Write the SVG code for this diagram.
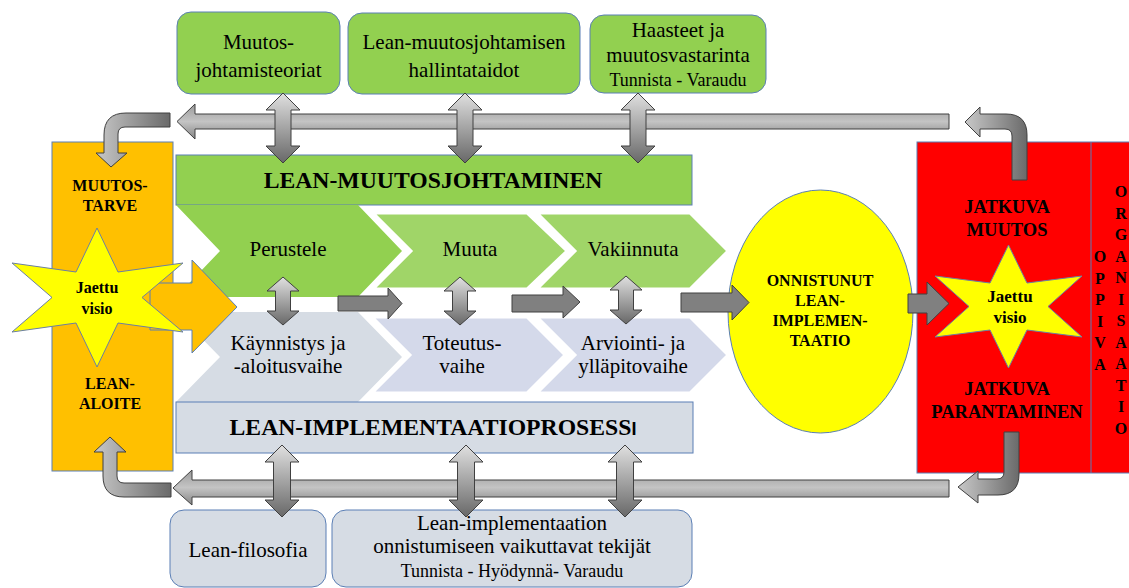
<svg xmlns="http://www.w3.org/2000/svg" width="1129" height="588" viewBox="0 0 1129 588">
  <style>
    .serif { font-family: "Liberation Serif", "Times New Roman", serif; fill: #000; }
    .reg { font-size: 21px; }
    .small { font-size: 18px; }
    .b16 { font-size: 16px; font-weight: bold; }
    .b17 { font-size: 17px; font-weight: bold; }
    .b18 { font-size: 18.5px; font-weight: bold; }
    .hdr { font-size: 23.7px; font-weight: bold; }
    .box-green { fill: #92d050; stroke: #5b7fb5; stroke-width: 1; }
    .box-grey { fill: #d6dce4; stroke: #5b7fb5; stroke-width: 1; }
    .chev-dark { fill: #92d050; }
    .chev-light { fill: #a0d568; stroke: #ffffff; stroke-width: 3; }
    .chev-grey1 { fill: #d6dce4; }
    .chev-grey2 { fill: #d4d9ea; stroke: #ffffff; stroke-width: 3; }
    .arrow-long { fill: url(#gLong); stroke: #404040; stroke-width: 1; }
    .arrow-bend { fill: url(#gBend); stroke: #404040; stroke-width: 1; }
    .arrow-dbl { fill: url(#gDbl); stroke: #404040; stroke-width: 1; }
    .arrow-flat { fill: #808080; stroke: #404040; stroke-width: 1; }
    .star { fill: #ffff00; stroke: #6b7fa3; stroke-width: 1; }
    .mid { text-anchor: middle; }
  </style>
  <defs>
    <linearGradient id="gLong" x1="0" y1="0" x2="0" y2="1">
      <stop offset="0" stop-color="#9a9a9a"/>
      <stop offset="0.5" stop-color="#c4c4c4"/>
      <stop offset="1" stop-color="#858585"/>
    </linearGradient>
    <linearGradient id="gBend" x1="0" y1="0" x2="1" y2="0">
      <stop offset="0" stop-color="#c8c8c8"/>
      <stop offset="1" stop-color="#6a6a6a"/>
    </linearGradient>
    <linearGradient id="gDbl" x1="0" y1="0" x2="0" y2="1">
      <stop offset="0" stop-color="#e0e0e0"/>
      <stop offset="1" stop-color="#686868"/>
    </linearGradient>
    <path id="dblTop" d="M0,0 L17,17 L8,17 L8,53 L17,53 L0,70 L-17,53 L-8,53 L-8,17 L-17,17 Z"/>
    <path id="dblMid" d="M0,0 L16,14 L7.5,14 L7.5,34 L16,34 L0,48 L-16,34 L-7.5,34 L-7.5,14 L-16,14 Z"/>
    <path id="dblBot" d="M0,0 L17,17 L8.5,17 L8.5,55 L17,55 L0,72 L-17,55 L-8.5,55 L-8.5,17 L-17,17 Z"/>
  </defs>

  <!-- top knowledge boxes -->
  <g id="box-muutosjohtamisteoriat">
    <rect class="box-green" x="177" y="12" width="163" height="82" rx="14"/>
    <text class="serif reg mid" x="258.5" y="49">Muutos-</text>
    <text class="serif reg mid" x="258.5" y="77">johtamisteoriat</text>
  </g>
  <g id="box-hallintataidot">
    <rect class="box-green" x="348" y="13" width="232" height="81" rx="14"/>
    <text class="serif reg mid" x="464" y="49">Lean-muutosjohtamisen</text>
    <text class="serif reg mid" x="464" y="77">hallintataidot</text>
  </g>
  <g id="box-haasteet">
    <rect class="box-green" x="590" y="15" width="176" height="78" rx="14"/>
    <text class="serif reg mid" x="678" y="37">Haasteet ja</text>
    <text class="serif reg mid" x="678" y="62">muutosvastarinta</text>
    <text class="serif small mid" x="678" y="86">Tunnista - Varaudu</text>
  </g>

  <!-- left column: need for change / lean initiative -->
  <g id="muutostarve">
    <rect x="52" y="142" width="121" height="329" fill="#ffc000" stroke="#5b7fb5" stroke-width="1"/>
    <text class="serif b16 mid" x="110" y="191">MUUTOS-</text>
    <text class="serif b16 mid" x="110" y="211">TARVE</text>
    <text class="serif b16 mid" x="110" y="389">LEAN-</text>
    <text class="serif b16 mid" x="110" y="409">ALOITE</text>
  </g>

  <!-- change management header and phases -->
  <g id="lean-muutosjohtaminen">
    <rect class="box-green" x="176" y="155" width="516" height="50"/>
    <text class="serif hdr mid" x="433" y="188">LEAN-MUUTOSJOHTAMINEN</text>
  </g>
  <g id="perustele">
    <polygon class="chev-dark" points="176,205 358,205 402,251 358,297 176,297 220,251"/>
    <text class="serif reg mid" x="288" y="256">Perustele</text>
  </g>
  <g id="muuta">
    <polygon class="chev-light" points="373,213 527,213 567,251 527,289 373,289 411,251"/>
    <text class="serif reg mid" x="470" y="256">Muuta</text>
  </g>
  <g id="vakiinnuta">
    <polygon class="chev-light" points="537,213 690,213 728,251 690,289 537,289 575,251"/>
    <text class="serif reg mid" x="633" y="256">Vakiinnuta</text>
  </g>

  <!-- implementation phases and header -->
  <g id="kaynnistys">
    <polygon class="chev-grey1" points="176,312 358,312 402,357 358,402 176,402 220,357"/>
    <text class="serif reg mid" x="288" y="350">Käynnistys ja</text>
    <text class="serif reg mid" x="288" y="373">-aloitusvaihe</text>
  </g>
  <g id="toteutus">
    <polygon class="chev-grey2" points="372,317 527,317 565,355 527,393 372,393 410,355"/>
    <text class="serif reg mid" x="462" y="350">Toteutus-</text>
    <text class="serif reg mid" x="462" y="373">vaihe</text>
  </g>
  <g id="arviointi">
    <polygon class="chev-grey2" points="537,317 690,317 728,355 690,393 537,393 575,355"/>
    <text class="serif reg mid" x="633" y="350">Arviointi- ja</text>
    <text class="serif reg mid" x="633" y="373">ylläpitovaihe</text>
  </g>
  <g id="lean-implementaatioprosessi">
    <rect class="box-grey" x="176" y="402" width="517" height="51"/>
    <text class="serif hdr mid" x="433" y="435">LEAN-IMPLEMENTAATIOPROSESS<tspan font-family="Liberation Sans, Arial, sans-serif" font-size="18">I</tspan></text>
  </g>

  <!-- bottom knowledge boxes -->
  <g id="box-lean-filosofia">
    <rect class="box-grey" x="170" y="510" width="156" height="77" rx="14"/>
    <text class="serif reg mid" x="248" y="557">Lean-filosofia</text>
  </g>
  <g id="box-tekijat">
    <rect class="box-grey" x="332" y="510" width="360" height="77" rx="14"/>
    <text class="serif reg mid" x="512" y="530">Lean-implementaation</text>
    <text class="serif reg mid" x="512" y="553">onnistumiseen vaikuttavat tekijät</text>
    <text class="serif small mid" x="512" y="577">Tunnista - Hyödynnä- Varaudu</text>
  </g>

  <!-- successful implementation -->
  <g id="onnistunut">
    <ellipse cx="820.5" cy="311.5" rx="92.5" ry="121.5" fill="#ffff00" stroke="#5b7fb5" stroke-width="1"/>
    <text class="serif b16 mid" x="820" y="286">ONNISTUNUT</text>
    <text class="serif b16 mid" x="820" y="306">LEAN-</text>
    <text class="serif b16 mid" x="820" y="326">IMPLEMEN-</text>
    <text class="serif b16 mid" x="820" y="346">TAATIO</text>
  </g>

  <!-- continuous change / learning organisation -->
  <g id="jatkuva">
    <rect x="917" y="142" width="220" height="331" fill="#ff0000" stroke="#5b7fb5" stroke-width="1"/>
    <line x1="1091" y1="142" x2="1091" y2="473" stroke="#5b7fb5" stroke-width="1"/>
    <text class="serif b18 mid" x="1007" y="213">JATKUVA</text>
    <text class="serif b18 mid" x="1007" y="236">MUUTOS</text>
    <text class="serif b18 mid" x="1007" y="395">JATKUVA</text>
    <text class="serif b18 mid" x="1007" y="418">PARANTAMINEN</text>
  </g>
  <g id="oppiva-organisaatio" class="serif b16">
    <text class="mid" x="1100" y="262">O</text>
    <text class="mid" x="1100" y="283.5">P</text>
    <text class="mid" x="1100" y="305">P</text>
    <text class="mid" x="1100" y="326.5">I</text>
    <text class="mid" x="1100" y="348">V</text>
    <text class="mid" x="1100" y="369.5">A</text>
    <text class="mid" x="1121" y="197">O</text>
    <text class="mid" x="1121" y="218.5">R</text>
    <text class="mid" x="1121" y="240">G</text>
    <text class="mid" x="1121" y="261.5">A</text>
    <text class="mid" x="1121" y="283">N</text>
    <text class="mid" x="1121" y="304.5">I</text>
    <text class="mid" x="1121" y="326">S</text>
    <text class="mid" x="1121" y="347.5">A</text>
    <text class="mid" x="1121" y="369">A</text>
    <text class="mid" x="1121" y="390.5">T</text>
    <text class="mid" x="1121" y="412">I</text>
    <text class="mid" x="1121" y="433.5">O</text>
  </g>

  <!-- connectors -->
  <g id="connectors">
    <!-- feedback loop -->
    <path class="arrow-long" d="M949,114 L195,114 L195,104 L177,121.5 L195,139 L195,129 L949,129 Z"/>
    <path class="arrow-long" d="M949,480 L192,480 L192,470 L173,488 L192,505 L192,497 L949,497 Z"/>
    <path class="arrow-bend" d="M170,113 L126,113 Q104,113 104,135 L104,153 L96,153 L111,167 L127,153 L118,153 L118,134 Q118,127 125,127 L170,127 Z"/>
    <path class="arrow-bend" d="M171,483 L124,483 Q117,483 117,476 L117,452 L126,452 L110,437 L94,452 L103,452 L103,476 Q103,497 124,497 L171,497 Z"/>
    <path class="arrow-bend" d="M1012,180 L1012,136 Q1012,129 1005,129 L980,129 L980,137 L965,122 L980,107 L980,114 L1006,114 Q1027,114 1027,135 L1027,180 Z"/>
    <path class="arrow-bend" d="M1004,432 L1004,472 Q1004,479 997,479 L978,479 L978,471 L958,487 L978,503 L978,495 L998,495 Q1019,495 1019,474 L1019,432 Z"/>

    <!-- shared vision into the process -->
    <path d="M150,283 L192,283 L192,260 L237,307 L192,353 L192,330 L150,330 Z" fill="#ffc000" stroke="#5b7fb5" stroke-width="1"/>
    <polygon class="star" points="97,228 118,272 183,263 142,297.5 183,332 118,323 97,367 76,323 12,332 52,297.5 12,263 76,272"/>
    <text class="serif b16 mid" x="97" y="293">Jaettu</text>
    <text class="serif b16 mid" x="97" y="314">visio</text>

    <!-- phase flow -->
    <path class="arrow-flat" d="M338,296 L388,296 L388,288 L402,303.5 L388,319 L388,311 L338,311 Z"/>
    <path class="arrow-flat" d="M512,295 L563,295 L563,286 L580,302 L563,318 L563,312 L512,312 Z"/>
    <path class="arrow-flat" d="M681,293 L732,293 L732,285 L749,302.5 L732,320 L732,312 L681,312 Z"/>

    <polygon class="star" points="1008.5,245 1027,283 1082,276 1048,306.5 1082,337 1027,330 1008.5,368 990,330 935,337 969,306.5 935,276 990,283"/>
    <text class="serif b17 mid" x="1010" y="302">Jaettu</text>
    <text class="serif b17 mid" x="1010" y="323">visio</text>
    <path class="arrow-flat" d="M908,294 L927,294 L927,282 L949,303.5 L927,325 L927,313 L908,313 Z"/>

    <!-- two-way links -->
    <use href="#dblTop" class="arrow-dbl" x="283" y="93"/>
    <use href="#dblTop" class="arrow-dbl" x="465" y="93"/>
    <use href="#dblTop" class="arrow-dbl" x="638" y="93"/>
    <use href="#dblMid" class="arrow-dbl" x="283" y="277"/>
    <use href="#dblMid" class="arrow-dbl" x="460" y="277"/>
    <use href="#dblMid" class="arrow-dbl" x="626" y="276"/>
    <use href="#dblBot" class="arrow-dbl" x="282" y="445"/>
    <use href="#dblBot" class="arrow-dbl" x="466" y="445"/>
    <use href="#dblBot" class="arrow-dbl" x="625" y="445"/>
  </g>
</svg>
